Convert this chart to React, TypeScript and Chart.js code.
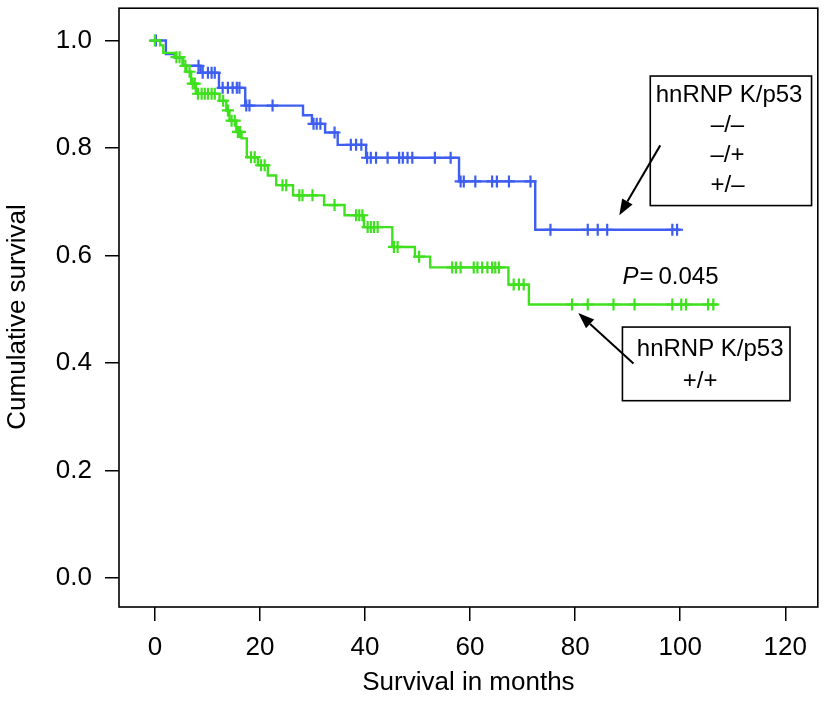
import React, { useEffect, useRef } from 'react';
import { Chart, registerables } from 'chart.js';

Chart.register(...registerables);

// Axis ticks
const xTickValues = [0, 20, 40, 60, 80, 100, 120];
const yTickValues = [0, 0.2, 0.4, 0.6, 0.8, 1.0];

// hnRNP K/p53 -/-, -/+, +/- (blue)
const blueStepTimes = [0, 2.1, 3.8, 5.3, 8.7, 12.2, 17.2, 28.2, 29.9, 32.4, 34.8, 40.2, 57.9, 72.4, 100.1];
const blueStepSurv = [1.0, 0.975, 0.968, 0.953, 0.94, 0.912, 0.879, 0.861, 0.845, 0.829, 0.806, 0.782, 0.738, 0.648, 0.648];
const blueCensorTimes = [
  0.2, 8.3, 9.1, 10.1, 10.8, 11.4, 12.9, 13.9, 14.8, 15.6, 16.1, 17.4, 18.0, 22.4,
  30.2, 30.8, 31.5, 34.2, 37.3, 38.3, 39.3, 40.4, 41.1, 42.1, 44.3, 46.5, 47.2, 48.1, 49.0,
  53.3, 56.3, 58.2, 58.8, 61.0, 64.2, 65.1, 67.4, 71.5, 75.3, 82.4, 84.3, 86.1, 98.5, 99.4,
];

// hnRNP K/p53 +/+ (green)
const greenStepTimes = [0, 1.0, 1.6, 3.8, 5.4, 6.0, 6.9, 7.8, 12.3, 13.6, 14.2, 15.5, 16.5, 17.5, 19.6, 21.5, 23.1, 26.3, 32.2, 36.1, 39.8, 45.2, 49.5, 52.4, 67.3, 71.2, 107.2];
const greenStepSurv = [1.0, 0.991, 0.977, 0.969, 0.953, 0.942, 0.92, 0.901, 0.888, 0.87, 0.851, 0.83, 0.818, 0.783, 0.768, 0.749, 0.731, 0.712, 0.694, 0.675, 0.653, 0.616, 0.598, 0.578, 0.546, 0.509, 0.509];
const greenCensorTimes = [
  0, 4.1, 4.7, 5.8, 6.6, 7.2, 7.6, 8.2, 8.9, 9.5, 10.1, 10.8, 11.4, 13.0, 13.9, 14.6, 15.2,
  15.8, 16.2, 18.3, 19.0, 20.2, 20.9, 24.3, 25.0, 27.5, 28.1, 30.0, 34.2, 38.3, 38.9, 39.5,
  40.5, 41.1, 41.7, 42.4, 45.5, 46.2, 50.3, 56.6, 57.3, 58.2, 60.7, 61.4, 62.3, 63.3, 64.2,
  64.8, 65.5, 68.3, 69.3, 70.2, 79.4, 82.4, 87.3, 91.3, 98.5, 100.2, 101.1, 105.3, 106.3,
];

const BLUE = '#3d5ef0';
const GREEN = '#3fe01e';
const FONT = '"Liberation Sans", Arial, Helvetica, sans-serif';

function survAt(times: number[], surv: number[], t: number) {
  let v = surv[0];
  for (let i = 0; i < times.length; i++) {
    if (times[i] <= t) v = surv[i];
  }
  return v;
}

const stepPoints = (times: number[], surv: number[]) => times.map((t, i) => ({ x: t, y: surv[i] }));
const censorPoints = (ct: number[], times: number[], surv: number[]) =>
  ct.map((t) => ({ x: t, y: survAt(times, surv, t) }));

const annotPlugin = {
  id: 'annot',
  afterDatasetsDraw(chart: any) {
    const { ctx, chartArea: a, scales } = chart;
    const X = (v: number) => scales.x.getPixelForValue(v);
    const Y = (v: number) => scales.y.getPixelForValue(v);
    ctx.save();
    ctx.strokeStyle = '#000';
    ctx.fillStyle = '#000';
    ctx.lineWidth = 1.6;
    ctx.strokeRect(a.left, a.top, a.right - a.left, a.bottom - a.top);

    const box = (x0: number, y0: number, x1: number, y1: number) => {
      ctx.lineWidth = 1.6;
      ctx.strokeRect(X(x0), Y(y0), X(x1) - X(x0), Y(y1) - Y(y0));
    };
    const arrow = (x0: number, y0: number, x1: number, y1: number) => {
      const px0 = X(x0), py0 = Y(y0), px1 = X(x1), py1 = Y(y1);
      const ang = Math.atan2(py1 - py0, px1 - px0);
      const len = 16, hw = 6;
      const bx = px1 - len * Math.cos(ang), by = py1 - len * Math.sin(ang);
      ctx.lineWidth = 2;
      ctx.beginPath();
      ctx.moveTo(px0, py0);
      ctx.lineTo(bx, by);
      ctx.stroke();
      ctx.beginPath();
      ctx.moveTo(px1, py1);
      ctx.lineTo(bx + hw * Math.sin(ang), by - hw * Math.cos(ang));
      ctx.lineTo(bx - hw * Math.sin(ang), by + hw * Math.cos(ang));
      ctx.closePath();
      ctx.fill();
    };
    const text = (s: string, x: number, y: number, align: CanvasTextAlign = 'center', style = '') => {
      ctx.font = `${style}24px ${FONT}`;
      ctx.textAlign = align;
      ctx.textBaseline = 'alphabetic';
      ctx.fillText(s, X(x), Y(y));
    };

    // upper box
    box(94.3, 0.934, 125.0, 0.693);
    text('hnRNP K/p53', 109.3, 0.886);
    text('\u2013/\u2013', 109.0, 0.83);
    text('\u2013/+', 109.0, 0.775);
    text('+/\u2013', 109.0, 0.719);
    arrow(96.2, 0.805, 88.4, 0.675);

    // lower box
    box(89.0, 0.467, 120.9, 0.33);
    text('hnRNP K/p53', 105.7, 0.413);
    text('+/+', 103.8, 0.354);
    arrow(91.1, 0.399, 80.6, 0.493);

    // P value
    ctx.font = `italic 24px ${FONT}`;
    ctx.textAlign = 'left';
    ctx.textBaseline = 'alphabetic';
    const pX = X(89.0), pY = Y(0.547);
    ctx.fillText('P', pX, pY);
    ctx.font = `24px ${FONT}`;
    ctx.fillText('=', pX + 17, pY);
    ctx.fillText('0.045', pX + 36, pY);

    // y axis title
    ctx.font = `26px ${FONT}`;
    ctx.textAlign = 'center';
    ctx.textBaseline = 'alphabetic';
    ctx.translate(25, 317);
    ctx.rotate(-Math.PI / 2);
    ctx.fillText('Cumulative survival', 0, 0);
    ctx.restore();
  },
};

export default function App() {
  const ref = useRef<HTMLCanvasElement | null>(null);
  useEffect(() => {
    document.body.style.margin = '0';
    const canvas = ref.current;
    if (!canvas) return;
    const tickFont = { family: FONT, size: 26 };
    const chart = new Chart(canvas, {
      type: 'line',
      data: {
        datasets: [
          {
            label: '+/+',
            data: stepPoints(greenStepTimes, greenStepSurv),
            borderColor: GREEN,
            borderWidth: 2.4,
            stepped: 'before',
            pointRadius: 0,
            fill: false,
          },
          {
            label: '+/+ censored',
            data: censorPoints(greenCensorTimes, greenStepTimes, greenStepSurv),
            borderColor: GREEN,
            backgroundColor: GREEN,
            showLine: false,
            pointStyle: 'cross',
            pointRadius: 6,
            pointBorderWidth: 2.2,
          },
          {
            label: '-/-, -/+, +/-',
            data: stepPoints(blueStepTimes, blueStepSurv),
            borderColor: BLUE,
            borderWidth: 2.4,
            stepped: 'before',
            pointRadius: 0,
            fill: false,
          },
          {
            label: '-/-, -/+, +/- censored',
            data: censorPoints(blueCensorTimes, blueStepTimes, blueStepSurv),
            borderColor: BLUE,
            backgroundColor: BLUE,
            showLine: false,
            pointStyle: 'cross',
            pointRadius: 6,
            pointBorderWidth: 2.2,
          },
        ],
      },
      options: {
        animation: false,
        responsive: false,
        maintainAspectRatio: false,
        layout: { padding: { top: 6, right: 6, left: 0, bottom: 0 } },
        plugins: { legend: { display: false }, tooltip: { enabled: false } },
        scales: {
          x: {
            type: 'linear',
            min: -6.83,
            max: 126.19,
            afterBuildTicks: (s: any) => {
              s.ticks = xTickValues.map((v) => ({ value: v }));
            },
            afterFit: (s: any) => {
              s.height = 95;
              s.paddingLeft = 0;
              s.paddingRight = 0;
            },
            ticks: { font: tickFont, color: '#000', padding: 11, maxRotation: 0, callback: (v: any) => String(v) },
            grid: { display: true, drawOnChartArea: false, drawTicks: true, tickLength: 14, color: '#000', lineWidth: 1.5 },
            border: { display: false },
            title: { display: true, text: 'Survival in months', color: '#000', font: { family: FONT, size: 26 }, padding: { top: 0, bottom: 4 } },
          },
          y: {
            type: 'linear',
            min: -0.0538,
            max: 1.0602,
            afterBuildTicks: (s: any) => {
              s.ticks = yTickValues.map((v) => ({ value: v }));
            },
            afterFit: (s: any) => {
              s.width = 119;
              s.paddingTop = 0;
              s.paddingBottom = 0;
            },
            ticks: { font: tickFont, color: '#000', padding: 13, callback: (v: any) => Number(v).toFixed(1) },
            grid: { display: true, drawOnChartArea: false, drawTicks: true, tickLength: 14, color: '#000', lineWidth: 1.5 },
            border: { display: false },
            title: { display: false },
          },
        },
      },
      plugins: [annotPlugin],
    } as any);
    return () => chart.destroy();
  }, []);
  return <canvas ref={ref} width={826} height={702} style={{ display: 'block' }} />;
}
